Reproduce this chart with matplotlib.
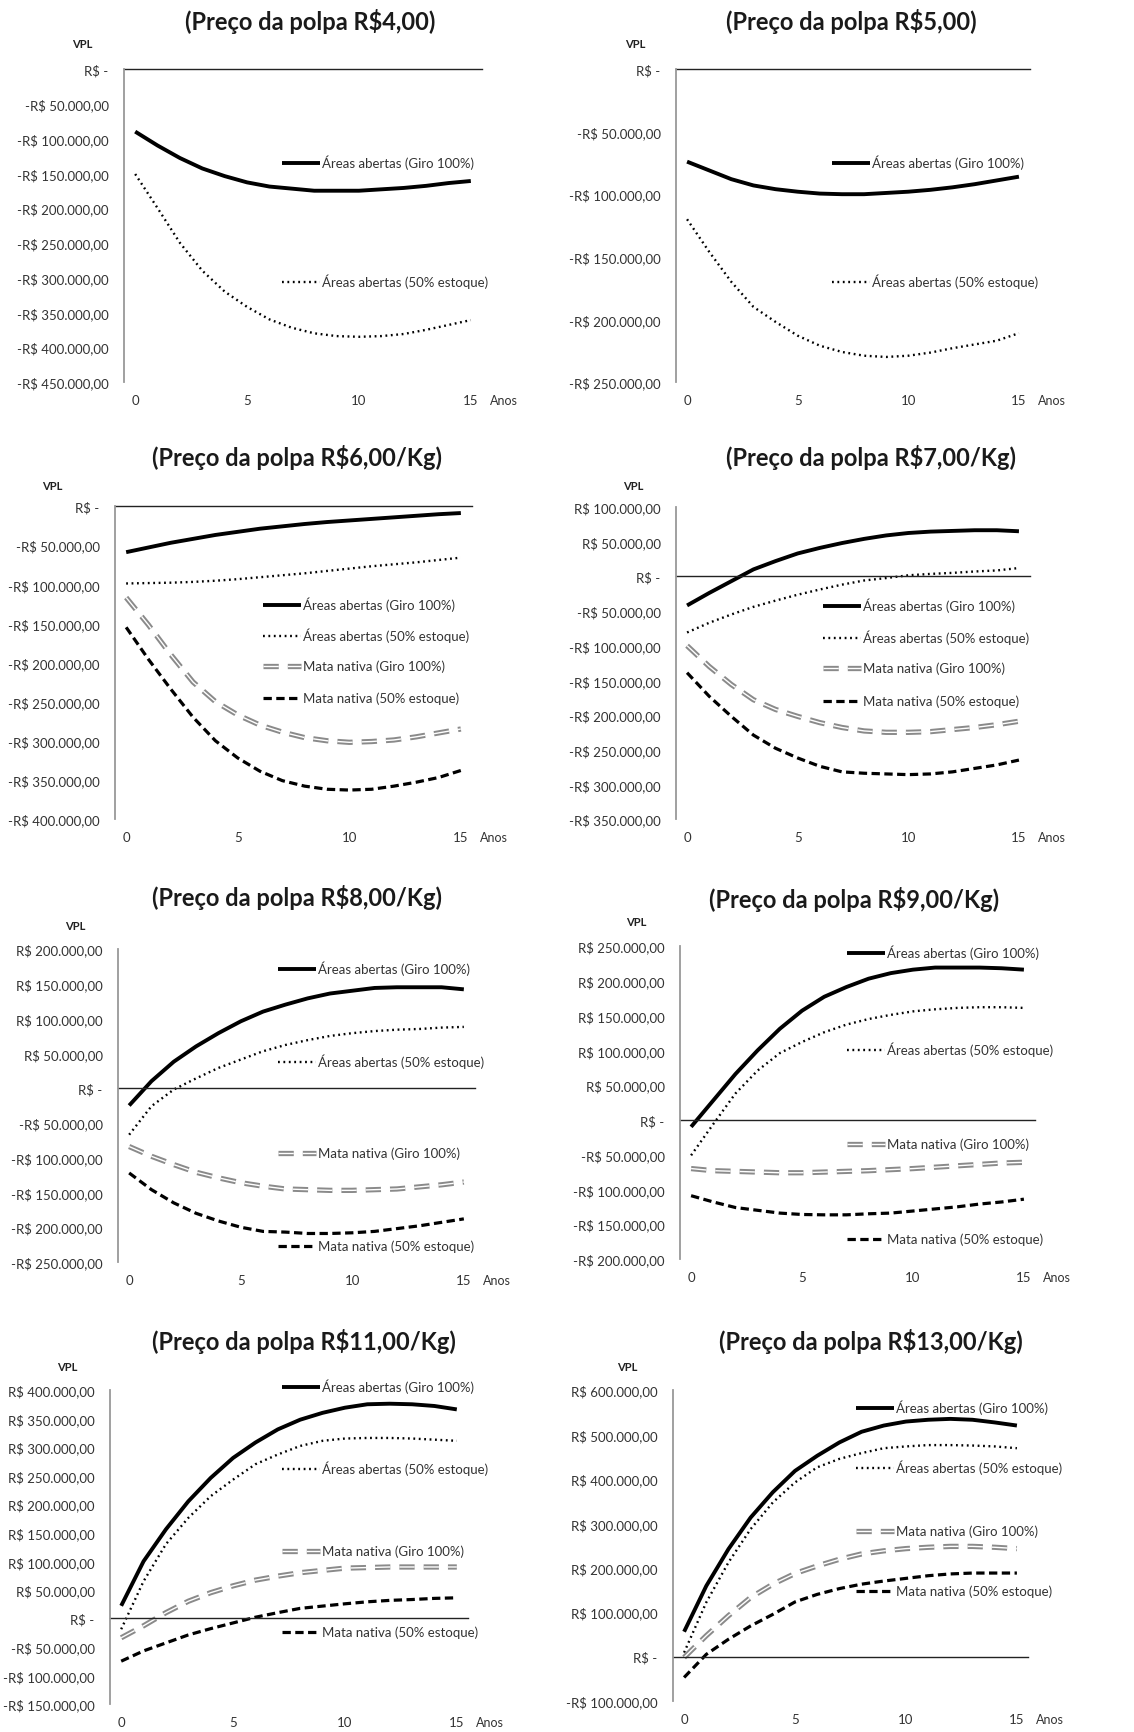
import matplotlib.pyplot as plt
from matplotlib.legend import Legend
from matplotlib.legend_handler import HandlerTuple
from matplotlib.ticker import FuncFormatter, MultipleLocator

plt.rcParams['font.family'] = ['Lato', 'DejaVu Sans']
plt.rcParams['lines.scale_dashes'] = False

anos = list(range(16))

# Preço da polpa R$4,00
r4_abertas_giro = [-90000, -110000, -128000, -143000, -154000, -163000, -169000, -172000,
                   -175000, -175000, -175000, -173000, -171000, -168000, -164000, -161000]
r4_abertas_est = [-151000, -200000, -250000, -290000, -320000, -342000, -360000, -372000,
                  -380000, -384000, -385000, -384000, -381000, -375000, -368000, -361000]

# R$5,00
r5_abertas_giro = [-74000, -81000, -88000, -93000, -96000, -98000, -99500, -100000,
                   -100000, -99000, -98000, -96500, -94500, -92000, -89000, -86000]
r5_abertas_est = [-120000, -146000, -170000, -190000, -202000, -213000, -221000, -226000,
                  -229000, -230000, -229000, -226500, -223000, -220000, -217000, -211000]

# R$6,00/Kg
r6_abertas_giro = [-59000, -53000, -47000, -42000, -37000, -33000, -29000, -26000,
                   -23000, -20500, -18500, -16500, -14500, -12500, -10500, -9000]
r6_abertas_est = [-99000, -98500, -98000, -97000, -95500, -93500, -91000, -88500,
                  -86000, -83000, -80000, -77000, -74500, -72000, -69000, -66000]
r6_mata_giro = [-117000, -152000, -190000, -225000, -250000, -267000, -280000, -289000,
                -296000, -300000, -302000, -301000, -299000, -295000, -290000, -285000]
r6_mata_est = [-155000, -196000, -234000, -270000, -300000, -322000, -339000, -351000,
               -358000, -362000, -363000, -362000, -358000, -353000, -347000, -338000]

# R$7,00/Kg
r7_abertas_giro = [-42000, -24000, -7000, 10000, 22000, 33000, 41000, 48000,
                   54000, 59000, 62500, 64500, 65500, 66500, 66500, 65000]
r7_abertas_est = [-81000, -67000, -55000, -44000, -35000, -26500, -19000, -12000,
                  -6000, -2500, 1500, 3500, 5000, 7000, 8500, 12000]
r7_mata_giro = [-100000, -130000, -156000, -178000, -192000, -202000, -211000, -218000,
                -223000, -225000, -225000, -224000, -221000, -218000, -214000, -209000]
r7_mata_est = [-139000, -173000, -202000, -229000, -248000, -262000, -274000, -282000,
               -284000, -285000, -286000, -285000, -282000, -277000, -272000, -265000]

# R$8,00/Kg
r8_abertas_giro = [-25000, 10000, 38000, 60000, 79000, 96000, 110000, 120000,
                   129000, 136000, 140000, 144000, 145000, 145000, 145000, 142000]
r8_abertas_est = [-67000, -26000, -2000, 14000, 29000, 41000, 53000, 62000,
                  69000, 75000, 79000, 82000, 84000, 85000, 87000, 88000]
r8_mata_giro = [-84000, -98000, -110000, -121000, -129000, -136000, -141000, -145000,
                -146000, -147000, -147000, -146000, -145000, -142000, -139000, -135000]
r8_mata_est = [-122000, -146000, -165000, -180000, -191000, -200000, -206000, -207000,
               -209000, -209000, -208000, -206000, -202000, -198000, -193000, -188000]

# R$9,00/Kg
r9_abertas_giro = [-10000, 28000, 66000, 100000, 131000, 157000, 177000, 191000,
                   203000, 211000, 216000, 219000, 219000, 219000, 218000, 216000]
r9_abertas_est = [-51000, -6000, 38000, 71000, 96000, 112000, 126000, 137000,
                  145000, 151000, 156000, 159000, 161000, 162000, 162000, 161000]
r9_mata_giro = [-70000, -73000, -74000, -75000, -76000, -76000, -75000, -74000,
                -73000, -71500, -70000, -68000, -66000, -64000, -62000, -61000]
r9_mata_est = [-109000, -118000, -126000, -130000, -134000, -136000, -136500, -136500,
               -135000, -134000, -131000, -128000, -125000, -121000, -118000, -114000]

# R$11,00/Kg
r11_abertas_giro = [22000, 100000, 156000, 205000, 246000, 281000, 308000, 331000,
                    348000, 360000, 369000, 375000, 376000, 375000, 372000, 366000]
r11_abertas_est = [-19000, 65000, 130000, 176000, 214000, 243000, 270000, 287000,
                   302000, 311000, 315000, 316000, 316000, 315000, 313000, 311000]
r11_mata_giro = [-34000, -13000, 10000, 30000, 45000, 57000, 67000, 74000,
                 80000, 84000, 88000, 89000, 90000, 90000, 90000, 90000]
r11_mata_est = [-75000, -57000, -43000, -29000, -18000, -8000, 2000, 10000,
                17500, 21500, 25500, 29000, 31500, 33000, 35000, 36000]

# R$13,00/Kg
r13_abertas_giro = [56000, 159000, 242000, 313000, 370000, 418000, 452000, 482000,
                    506000, 520000, 529000, 533000, 535000, 533000, 527000, 520000]
r13_abertas_est = [9000, 122000, 212000, 287000, 347000, 392000, 426000, 445000,
                   458000, 469000, 473000, 476000, 476000, 475000, 473000, 469000]
r13_mata_giro = [-2000, 47000, 92000, 133000, 163000, 187000, 204000, 219000,
                 231000, 238000, 243000, 246000, 248000, 248000, 246000, 243000]
r13_mata_est = [-47000, 5000, 39000, 69000, 95000, 123000, 140000, 153000,
                163000, 170000, 176000, 182000, 186000, 188000, 188000, 188000]

rotulos = ['Áreas abertas (Giro 100%)', 'Áreas abertas (50% estoque)',
           'Mata nativa (Giro 100%)', 'Mata nativa (50% estoque)']

W, H = 1134, 1733


def brl(v, pos):
    if v == 0:
        return 'R$ -'
    s = f'{abs(v):,.2f}'.replace(',', 'X').replace('.', ',').replace('X', '.')
    return ('-' if v < 0 else '') + 'R$ ' + s


# (titulo, series, ylim, passo, caixa em px, pos titulo, pos VPL, legenda x, legenda ys)
paineis = [
    ('(Preço da polpa R$4,00)', [r4_abertas_giro, r4_abertas_est], (-450000, 0), 50000,
     (124, 70, 482, 383), (310, 22), (82, 45), 282, [163, 282]),
    ('(Preço da polpa R$5,00)', [r5_abertas_giro, r5_abertas_est], (-250000, 0), 50000,
     (676, 70, 1030, 383), (851, 22), (635, 45), 832, [163, 282]),
    ('(Preço da polpa R$6,00/Kg)', [r6_abertas_giro, r6_abertas_est, r6_mata_giro, r6_mata_est],
     (-400000, 0), 50000, (115, 507, 472, 820), (297, 458), (52, 487), 263, [605, 636, 667, 699]),
    ('(Preço da polpa R$7,00/Kg)', [r7_abertas_giro, r7_abertas_est, r7_mata_giro, r7_mata_est],
     (-350000, 100000), 50000, (676, 508, 1030, 820), (871, 458), (633, 487), 823, [606, 638, 669, 702]),
    ('(Preço da polpa R$8,00/Kg)', [r8_abertas_giro, r8_abertas_est, r8_mata_giro, r8_mata_est],
     (-250000, 200000), 50000, (118, 950, 475, 1263), (297, 898), (75, 927), 278, [969, 1062, 1154, 1247]),
    ('(Preço da polpa R$9,00/Kg)', [r9_abertas_giro, r9_abertas_est, r9_mata_giro, r9_mata_est],
     (-200000, 250000), 50000, (680, 947, 1035, 1260), (854, 900), (636, 923), 847, [953, 1050, 1145, 1240]),
    ('(Preço da polpa R$11,00/Kg)', [r11_abertas_giro, r11_abertas_est, r11_mata_giro, r11_mata_est],
     (-150000, 400000), 50000, (110, 1391, 468, 1705), (304, 1342), (67, 1368), 282, [1387, 1469, 1552, 1633]),
    ('(Preço da polpa R$13,00/Kg)', [r13_abertas_giro, r13_abertas_est, r13_mata_giro, r13_mata_est],
     (-100000, 600000), 100000, (673, 1391, 1028, 1702), (871, 1342), (627, 1368), 856, [1408, 1468, 1532, 1592]),
]

fig = plt.figure(figsize=(W / 100, H / 100), dpi=100)

for titulo, series, ylim, passo, caixa, pt, pv, lx, lys in paineis:
    x0, y0, x1, y1 = caixa
    ax = fig.add_axes([x0 / W, 1 - y1 / H, (x1 - x0) / W, (y1 - y0) / H])
    handles = []
    h, = ax.plot(anos, series[0], color='black', lw=2.8, solid_capstyle='butt')
    handles.append(h)
    h, = ax.plot(anos, series[1], color='black', lw=1.7, ls=(0, (1.3, 2.6)))
    handles.append(h)
    if len(series) > 2:
        g1, = ax.plot(anos, series[2], color='#8a8a8a', lw=3.8, ls=(0, (11, 6.5)))
        g2, = ax.plot(anos, series[2], color='white', lw=1.0, ls=(0, (11, 6.5)))
        handles.append((g1, g2))
        h, = ax.plot(anos, series[3], color='black', lw=2.3, ls=(0, (6, 3.2)))
        handles.append(h)

    ax.axhline(0, color='#222222', lw=1.0, clip_on=False)
    ax.set_xlim(-0.5, 15.5)
    ax.set_ylim(*ylim)
    ax.set_xticks([0, 5, 10, 15])
    ax.yaxis.set_major_locator(MultipleLocator(passo))
    ax.yaxis.set_major_formatter(FuncFormatter(brl))
    for s in ['top', 'right', 'bottom']:
        ax.spines[s].set_visible(False)
    ax.spines['left'].set_color('#999999')
    ax.spines['left'].set_linewidth(1.3)
    ax.tick_params(axis='both', length=0, labelsize=9.5, labelcolor='#333333')
    ax.tick_params(axis='y', pad=11)
    ax.tick_params(axis='x', pad=9)
    ax.patch.set_visible(False)

    ax.annotate('Anos', xy=(1, 0), xycoords='axes fraction', xytext=(6, -9),
                textcoords='offset points', ha='left', va='top', fontsize=9, color='#333333')
    fig.text(pt[0] / W, 1 - pt[1] / H, titulo, ha='center', va='center',
             fontsize=17, fontweight='bold', color='#1a1a1a')
    fig.text(pv[0] / W, 1 - pv[1] / H, 'VPL', ha='center', va='center',
             fontsize=8, fontweight='bold', color='#222222')

    for hd, lab, ly in zip(handles, rotulos, lys):
        leg = Legend(ax, [hd], [lab], loc='center left',
                     bbox_to_anchor=(lx / W, 1 - ly / H), bbox_transform=fig.transFigure,
                     frameon=False, fontsize=9.5, handlelength=2.9, handletextpad=0.1,
                     borderpad=0, borderaxespad=0,
                     handler_map={tuple: HandlerTuple(ndivide=1)})
        for t in leg.get_texts():
            t.set_color('#333333')
        ax.add_artist(leg)

fig.savefig('out.png', dpi=100)
